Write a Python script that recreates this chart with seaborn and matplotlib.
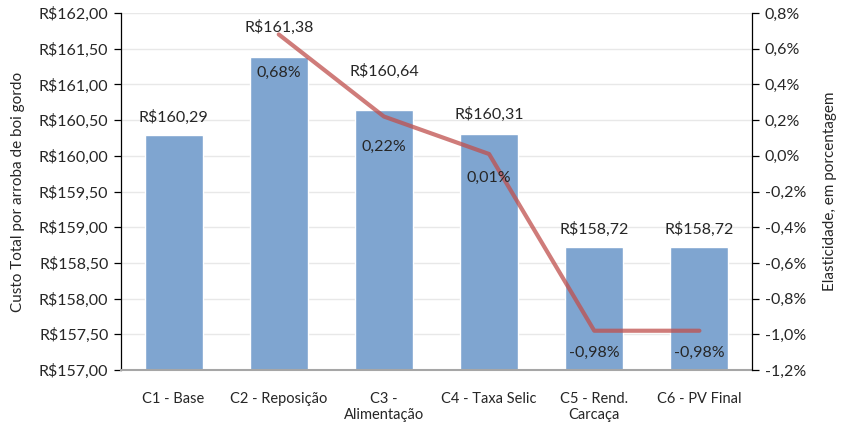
import matplotlib
matplotlib.use("Agg")
import matplotlib.pyplot as plt
import seaborn as sns
import pandas as pd
import numpy as np
from matplotlib.ticker import FuncFormatter, MultipleLocator

categories = ["C1 - Base", "C2 - Reposição", "C3 -\nAlimentação", "C4 - Taxa Selic",
              "C5 - Rend.\nCarcaça", "C6 - PV Final"]
custo = [160.29, 161.38, 160.64, 160.31, 158.72, 158.72]
elasticidade = [np.nan, 0.68, 0.22, 0.01, -0.98, -0.98]

# label placement (pixels), as manually arranged in the reference
bar_label_dy = [18, 30, 39, 19, 18, 18]
line_label_dy = [0, 38, 30, 24, 22, 22]

sns.set_theme(style="white")
plt.rcParams["font.family"] = ["Lato", "DejaVu Sans"]
plt.rcParams["font.size"] = 11

fig = plt.figure(figsize=(8.53, 4.42), dpi=100)
ax = fig.add_axes([121/853, 1-370/442, (752-121)/853, (370-13)/442])

df = pd.DataFrame({"cat": categories, "custo": custo})
sns.barplot(data=df, x="cat", y="custo", color="#7FA5D0", saturation=1, width=0.55, ax=ax,
            bottom=0)
ax.set_ylim(157, 162)
ax.yaxis.set_major_locator(MultipleLocator(0.5))
ax.yaxis.set_major_formatter(FuncFormatter(lambda v, p: "R$" + f"{v:.2f}".replace(".", ",")))
ax.grid(axis="y", color="#E8E8E8", lw=1)
ax.set_axisbelow(True)
ax.set_xlabel("")
ax.set_ylabel("Custo Total por arroba de boi gordo", fontsize=11, labelpad=10)
for s in ["top", "right"]:
    ax.spines[s].set_visible(False)
ax.spines["left"].set_color("black")
ax.spines["left"].set_linewidth(0.9)
ax.spines["bottom"].set_color("#A6A6A6")
ax.spines["bottom"].set_linewidth(1.5)
ax.tick_params(axis="y", left=True, length=5, width=0.9, color="black", labelsize=11.5, pad=4)
ax.tick_params(axis="x", bottom=False, labelsize=10.5, pad=10)

for i, v in enumerate(custo):
    ax.annotate("R$" + f"{v:.2f}".replace(".", ","), (i, v), xytext=(0, bar_label_dy[i]),
                textcoords="offset pixels", ha="center", va="center", fontsize=11.5)

ax2 = ax.twinx()
x = np.arange(len(categories))
sns.lineplot(x=x, y=elasticidade, ax=ax2, color="#C0504D", alpha=0.75, lw=3)
ax2.set_ylim(-1.2, 0.8)
ax2.yaxis.set_major_locator(MultipleLocator(0.2))
ax2.yaxis.set_major_formatter(FuncFormatter(lambda v, p: f"{v:.1f}%".replace(".", ",").replace("-0,0", "0,0")))
ax2.set_ylabel("Elasticidade, em porcentagem", fontsize=11, labelpad=12)
for s in ["top", "left", "bottom"]:
    ax2.spines[s].set_visible(False)
ax2.spines["right"].set_color("black")
ax2.spines["right"].set_linewidth(0.9)
ax2.tick_params(axis="y", right=True, length=5, width=0.9, color="black", labelsize=11.5, pad=4)
ax2.grid(False)

for i, v in enumerate(elasticidade):
    if np.isnan(v):
        continue
    ax2.annotate(f"{v:.2f}%".replace(".", ","), (i, v), xytext=(0, -line_label_dy[i]),
                 textcoords="offset pixels", ha="center", va="center", fontsize=11.5)

ax.set_xlim(-0.5, len(categories) - 0.5)
fig.savefig("out.png", dpi=100)
